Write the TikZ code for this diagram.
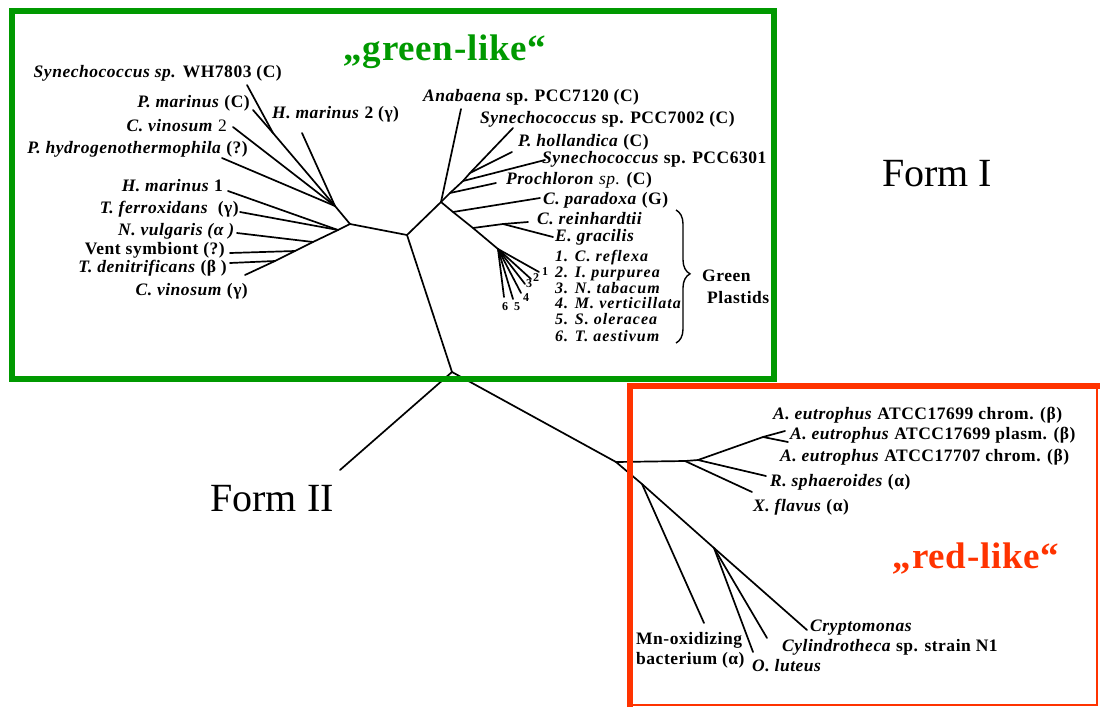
\documentclass[tikz,border=0pt]{standalone}
\usepackage{fontspec}
\setmainfont{Liberation Serif}
\newfontfamily\labfont{Liberation Serif}[LetterSpace=3]
\newfontfamily\listfont{Liberation Serif}[LetterSpace=6.5]
\newfontfamily\titlefont{Liberation Serif}[LetterSpace=2]
\usetikzlibrary{decorations.pathreplacing}
\definecolor{boxgreen}{RGB}{0,153,0}
\definecolor{boxred}{RGB}{255,51,0}

\begin{document}
\begin{tikzpicture}[x=1pt,y=-1pt,
  branch/.style={line width=1.7pt, line cap=round, line join=round},
  lab/.style={font=\labfont\bfseries\fontsize{17.5}{20}\selectfont, inner sep=0pt},
  labw/.style={lab, anchor=base west},
  labe/.style={lab, anchor=base east},
  plast/.style={font=\listfont\bfseries\itshape\fontsize{16}{18}\selectfont, inner sep=0pt, anchor=base west},
  num/.style={font=\bfseries\fontsize{12}{13}\selectfont, inner sep=0pt},
  title/.style={font=\titlefont\bfseries\fontsize{37}{40}\selectfont, anchor=base, inner sep=0pt},
  formlab/.style={font=\fontsize{40}{44}\selectfont, anchor=base, inner sep=0pt}
]
\useasboundingbox (0,0) rectangle (1100,707);

% ---------- branch points and leaf ends ----------
\coordinate (root) at (452,372);
\coordinate (M) at (407,235);
\coordinate (eF2) at (340,470);
% green-like, left cluster
\coordinate (L0) at (350,224);
\coordinate (LU) at (335,206);
\coordinate (Pm) at (273,133);
\coordinate (eWH) at (247,85);
\coordinate (ePm) at (253,110);
\coordinate (eHm2) at (302,133);
\coordinate (eCv2) at (233,127);
\coordinate (ePh) at (222,158);
\coordinate (S1) at (338,230);
\coordinate (S2) at (313,242);
\coordinate (S3) at (295,251);
\coordinate (S4) at (275,261);
\coordinate (eCvg) at (245,275);
\coordinate (eHm1) at (228,191);
\coordinate (eTf) at (240,212);
\coordinate (eNv) at (237,233);
\coordinate (eVs) at (230,253);
\coordinate (eTd) at (230,263);
% green-like, right cluster
\coordinate (R0) at (441,202);
\coordinate (eAn) at (461,109);
\coordinate (RA) at (463,181);
\coordinate (RB) at (470,173);
\coordinate (e7002) at (513,128);
\coordinate (eHol) at (512,152);
\coordinate (e6301) at (545,160);
\coordinate (RC) at (450,193);
\coordinate (ePro) at (496,183);
\coordinate (RD) at (453,212);
\coordinate (ePar) at (540,198);
\coordinate (RE) at (473,228);
\coordinate (eRein) at (528,222);
\coordinate (RF) at (503,224);
\coordinate (eGra) at (553,237);
\coordinate (GP) at (498,249);
\coordinate (g1) at (539,272);
\coordinate (g2) at (531,279);
\coordinate (g3) at (525,284);
\coordinate (g4) at (521,293);
\coordinate (g5) at (513,299);
\coordinate (g6) at (504,297);
% red-like cluster
\coordinate (J1) at (616,462);
\coordinate (K) at (685,461);
\coordinate (K2) at (698,460);
\coordinate (eXf) at (752,492);
\coordinate (eRs) at (766,476);
\coordinate (AE) at (763,437);
\coordinate (eA1) at (785,431);
\coordinate (eA2) at (788,442);
\coordinate (J2) at (642,484);
\coordinate (J3) at (714,548);
\coordinate (eMn) at (704,623);
\coordinate (eCr) at (807,630);
\coordinate (eCy) at (767,638);
\coordinate (eOl) at (753,652);

% ---------- branches ----------
\draw[branch] (eF2) -- (root) -- (M) -- (L0);
\draw[branch] (M) -- (R0);
\draw[branch] (root) -- (J1);
% left cluster
\draw[branch] (L0) -- (LU) -- (Pm) -- (eWH);
\draw[branch] (Pm) -- (ePm);
\draw[branch] (LU) -- (eHm2);
\draw[branch] (LU) -- (eCv2);
\draw[branch] (LU) -- (ePh);
\draw[branch] (L0) -- (S1) -- (S2) -- (S3) -- (S4) -- (eCvg);
\draw[branch] (S1) -- (eHm1);
\draw[branch] (S1) -- (eTf);
\draw[branch] (S2) -- (eNv);
\draw[branch] (S3) -- (eVs);
\draw[branch] (S4) -- (eTd);
% right cluster
\draw[branch] (R0) -- (eAn);
\draw[branch] (R0) -- (RC) -- (RA) -- (RB) -- (e7002);
\draw[branch] (RB) -- (eHol);
\draw[branch] (RA) -- (e6301);
\draw[branch] (RC) -- (ePro);
\draw[branch] (R0) -- (RD) -- (RE) -- (GP);
\draw[branch] (RD) -- (ePar);
\draw[branch] (RE) -- (RF) -- (eRein);
\draw[branch] (RF) -- (eGra);
\foreach \g in {g1,g2,g3,g4,g5,g6} \draw[branch] (GP) -- (\g);
% red cluster
\draw[branch] (J1) -- (K) -- (K2) -- (AE) -- (eA1);
\draw[branch] (AE) -- (eA2);
\draw[branch] (K) -- (eXf);
\draw[branch] (K2) -- (eRs);
\draw[branch] (J1) -- (J2) -- (J3) -- (eCr);
\draw[branch] (J2) -- (eMn);
\draw[branch] (J3) -- (eCy);
\draw[branch] (J3) -- (eOl);

% ---------- frames ----------
\draw[boxgreen, line width=6pt] (12,11) rectangle (774,379);
\draw[boxred, line width=2pt] (630,386) rectangle (1097,705);
\draw[boxred, line width=6pt] (630,707) -- (630,386) -- (1100,386);

% ---------- group titles ----------
\node[title, text=boxgreen] (tgreen) at (445,60) {„green-like“};
\node[title, text=boxred] (tred) at (976,568) {„red-like“};
\node[formlab] (form1) at (937,186) {Form I};
\node[formlab] (form2) at (272,511) {Form II};

% ---------- left cluster labels ----------
\node[labe] (nWH) at (282,77) {\textit{Synechococcus sp.} WH7803 (C)};
\node[labe] (nPm) at (250,107) {\textit{P. marinus} (C)};
\node[labw] (nHm2) at (272,118) {\textit{H. marinus} 2 (γ)};
\node[labe] (nCv2) at (227,131) {\textit{C. vinosum} {\mdseries 2}};
\node[labe] (nPh) at (248,153) {\textit{P. hydrogenothermophila} (?)};
\node[labe] (nHm1) at (223,191) {\textit{H. marinus} 1};
\node[labe] (nTf) at (239,213) {\textit{T. ferroxidans}\ \ (γ)};
\node[labe] (nNv) at (235,235) {\textit{N. vulgaris (α )}};
\node[labe] (nVs) at (225,254) {Vent symbiont (?)};
\node[labe] (nTd) at (227,272) {\textit{T. denitrificans} (β )};
\node[labe] (nCvg) at (248,295) {\textit{C. vinosum} (γ)};

% ---------- right cluster labels ----------
\node[labw] (nAn) at (423,101) {\textit{Anabaena} sp. PCC7120 (C)};
\node[labw] (n7002) at (480,123) {\textit{Synechococcus} sp. PCC7002 (C)};
\node[labw] (nHol) at (518,146) {\textit{P. hollandica} (C)};
\node[labw] (n6301) at (542,163) {\textit{Synechococcus} sp. PCC6301};
\node[labw] (nPro) at (506,184) {\textit{Prochloron} {\mdseries\itshape sp.} (C)};
\node[labw] (nPar) at (543,204) {\textit{C. paradoxa} (G)};
\node[labw] (nRein) at (537,224) {\textit{C. reinhardtii}};
\node[labw] (nGra) at (555,241) {\textit{E. gracilis}};
\node[plast] (nG1) at (555,261) {1. C. reflexa};
\node[plast] (nG2) at (555,277.5) {2. I. purpurea};
\node[plast] (nG3) at (555,293) {3. N. tabacum};
\node[plast] (nG4) at (555,308.5) {4. M. verticillata};
\node[plast] (nG5) at (555,324.5) {5. S. oleracea};
\node[plast] (nG6) at (555,341) {6. T. aestivum};
\node[num] (d1) at (545,272) {1};
\node[num] (d2) at (536,278) {2};
\node[num] (d3) at (529,284) {3};
\node[num] (d4) at (526,298) {4};
\node[num] (d5) at (517,307) {5};
\node[num] (d6) at (505,307) {6};
\draw[line width=1.4pt, decorate, decoration={brace, amplitude=14pt, aspect=0.48}] (676,210) -- (676,343);
\node[labw] (nGreen) at (702,281) {Green};
\node[labw] (nPlast) at (707,303) {Plastids};

% ---------- red cluster labels ----------
\node[labw] (nA1) at (773,419) {\textit{A. eutrophus} ATCC17699 chrom. (β)};
\node[labw] (nA2) at (790,439) {\textit{A. eutrophus} ATCC17699 plasm. (β)};
\node[labw] (nA3) at (780,461) {\textit{A. eutrophus} ATCC17707 chrom. (β)};
\node[labw] (nRs) at (770,486) {\textit{R. sphaeroides} (α)};
\node[labw] (nXf) at (753,511) {\textit{X. flavus} (α)};
\node[labw] (nCr) at (810,631) {\textit{Cryptomonas}};
\node[labw] (nCy) at (782,651) {\textit{Cylindrotheca} sp. strain N1};
\node[labw] (nOl) at (752,671) {\textit{O. luteus}};
\node[labw] (nMn1) at (636,644) {Mn-oxidizing};
\node[labw] (nMn2) at (636,664) {bacterium (α)};
\end{tikzpicture}
\end{document}
